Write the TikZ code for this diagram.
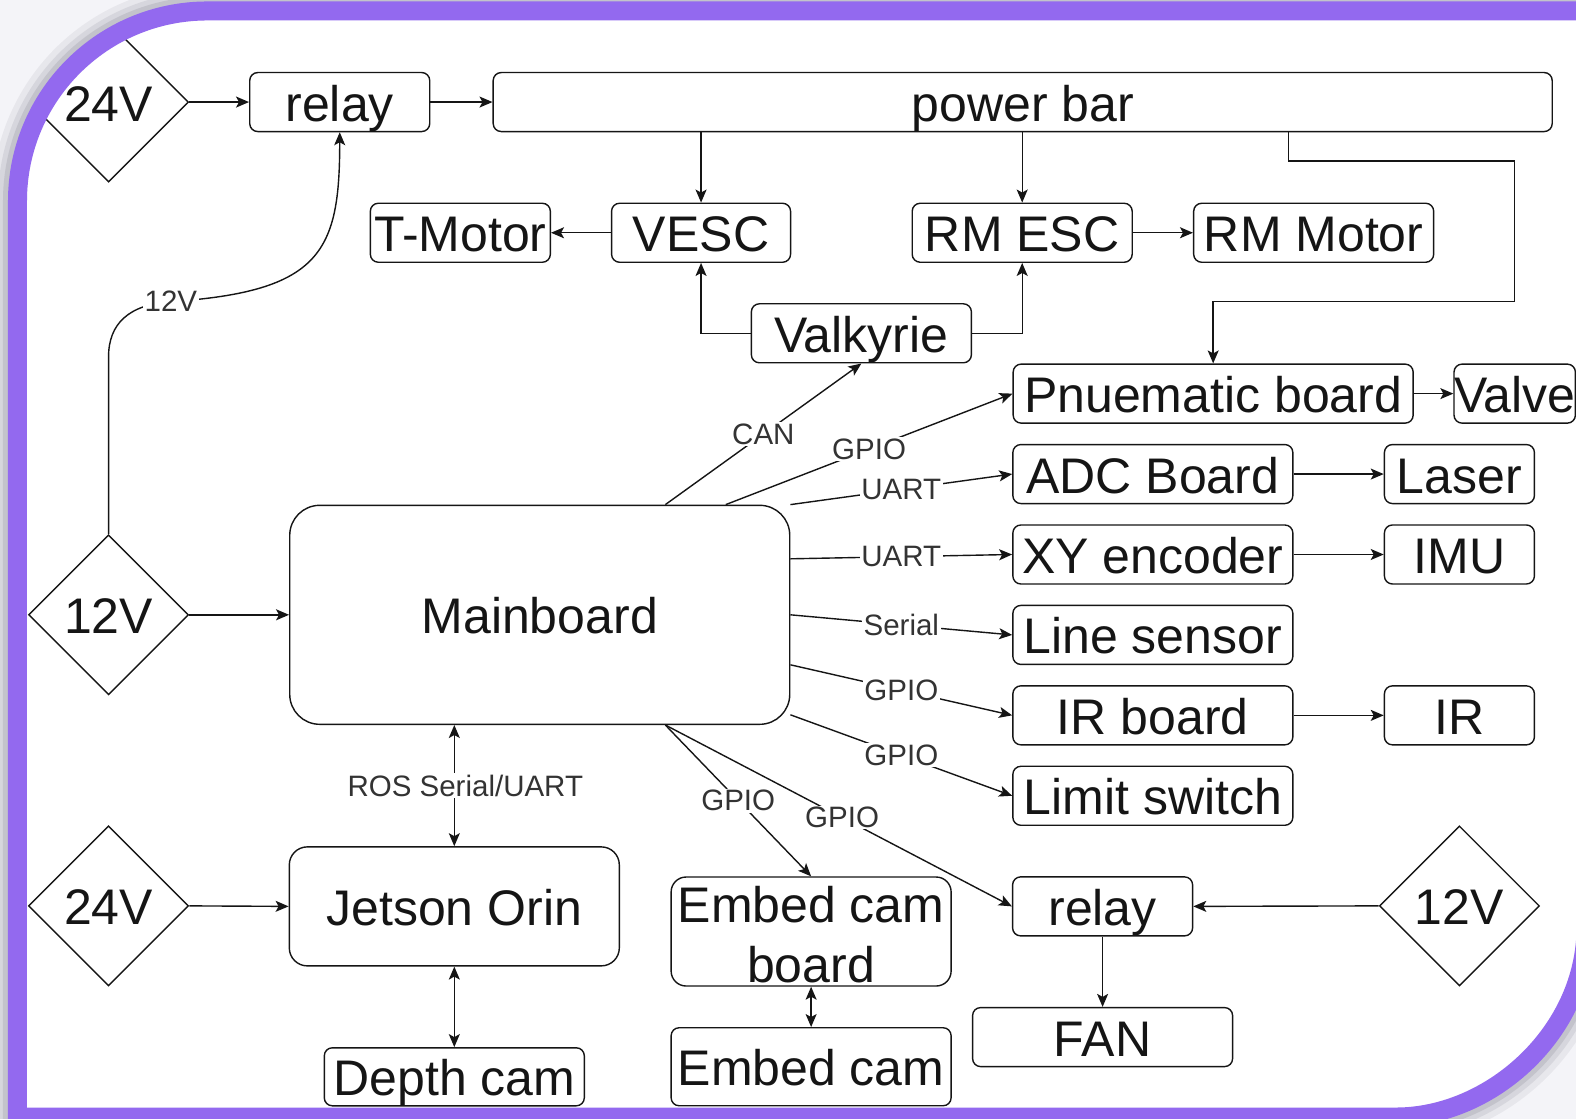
\documentclass[tikz,border=0pt]{standalone}
\usepackage{fontspec}
\setmainfont{Liberation Sans}
\usetikzlibrary{shapes.geometric,arrows.meta,calc}
\definecolor{framecol}{HTML}{9369EF}
\definecolor{outercol}{HTML}{F4F4F8}
\definecolor{shadecol}{HTML}{8E8C99}
\definecolor{lblc}{HTML}{333333}
\definecolor{inkc}{HTML}{151515}
\begin{document}
\begin{tikzpicture}[x=1.0051pt,y=-1.0054pt,
  framepath/.style={insert path={(17.4,1111) -- (17.4,200) .. controls (17.4,95.5) and (102,10.9) .. (206.4,10.9) -- (1578,10.9) -- (1578,922) .. controls (1578,1026.5) and (1483.4,1111) .. (1389,1111) -- cycle}},
  box/.style={draw=inkc, line width=1.4pt, rounded corners=8pt, inner sep=0pt, text=inkc,
    font=\fontsize{50}{60}\selectfont, align=center, text height=40pt, text depth=2pt},
  dia/.style={draw=inkc, diamond, aspect=1, line width=1.4pt, minimum width=160pt, minimum height=160pt,
    inner sep=0pt, text=inkc, font=\fontsize{50}{60}\selectfont, text height=40pt, text depth=2pt},
  conn/.style={draw=inkc, line width=1.4pt, -{Stealth[length=13pt,width=11pt,inset=3pt]}},
  both/.style={draw=inkc, line width=1.4pt, {Stealth[length=13pt,width=11pt,inset=3pt]}-{Stealth[length=13pt,width=11pt,inset=3pt]}},
  lbl/.style={fill=white, inner sep=1.5pt, text=lblc, font=\fontsize{29.5}{32}\selectfont}]

\useasboundingbox (0,0) rectangle (1568,1112);
\fill[outercol] (-20,-20) rectangle (1590,1130);
\draw[shadecol, opacity=.12, line width=51pt, framepath];
\draw[shadecol, opacity=.18, line width=39pt, framepath];
\draw[shadecol, opacity=.25, line width=29pt, framepath];
\fill[white, framepath];

\begin{scope}
\clip[framepath];
% nodes
\node[dia] (d24a) at (108,101.5) {24V};
\node[box, minimum width=180pt, minimum height=59pt] (relayA) at (338,101.5) {relay};
\node[box, minimum width=1059pt, minimum height=59pt] (pbar) at (1017.5,101.5) {power bar};
\node[box, minimum width=180pt, minimum height=59pt] (tmotor) at (458,231.5) {T-Motor};
\node[box, minimum width=179pt, minimum height=59pt] (vesc) at (697.5,231.5) {VESC};
\node[box, minimum width=220pt, minimum height=59pt] (rmesc) at (1017,231.5) {RM ESC};
\node[box, minimum width=240pt, minimum height=59pt] (rmmotor) at (1307,231.5) {RM Motor};
\node[box, minimum width=220pt, minimum height=59pt] (valk) at (857,331.5) {Valkyrie};
\node[box, minimum width=400pt, minimum height=59pt] (pneu) at (1207,391.5) {Pnuematic board};
\node[box, minimum width=120pt, minimum height=59pt] (valve) at (1507,391.5) {Valve};
\node[box, minimum width=280pt, minimum height=59pt] (adc) at (1147,471.5) {ADC Board};
\node[box, minimum width=150pt, minimum height=59pt] (laser) at (1452,471.5) {Laser};
\node[box, minimum width=280pt, minimum height=59pt] (xy) at (1147,551.5) {XY encoder};
\node[box, minimum width=150pt, minimum height=59pt] (imu) at (1452,551.5) {IMU};
\node[box, minimum width=280pt, minimum height=59pt] (lines) at (1147,631.5) {Line sensor};
\node[box, minimum width=280pt, minimum height=59pt] (irb) at (1147,711.5) {IR board};
\node[box, minimum width=150pt, minimum height=59pt] (ir) at (1452,711.5) {IR};
\node[box, minimum width=280pt, minimum height=59pt] (limit) at (1147,791.5) {Limit switch};
\node[box, rounded corners=30pt, minimum width=500pt, minimum height=219pt] (main) at (537,611.5) {Mainboard};
\node[dia] (d12a) at (108,611.5) {12V};
\node[dia] (d24b) at (108,901) {24V};
\node[box, rounded corners=18pt, minimum width=330pt, minimum height=119pt] (jetson) at (452,901.5) {Jetson Orin};
\node[box, minimum width=260pt, minimum height=58pt] (depth) at (452,1071) {Depth cam};
\node[box, rounded corners=15pt, minimum width=280pt, minimum height=109pt, text height=101pt, text depth=0pt] (ecb) at (807,926.5) {Embed cam\\board};
\node[box, minimum width=280pt, minimum height=78pt] (ec) at (807,1061) {Embed cam};
\node[box, minimum width=180pt, minimum height=59pt] (relayB) at (1097,901.5) {relay};
\node[box, minimum width=260pt, minimum height=59pt] (fan) at (1097,1031.5) {FAN};
\node[dia] (d12b) at (1452,901) {12V};

% connectors
\draw[conn] (d24a.east) -- (relayA.west);
\draw[conn] (relayA.east) -- (pbar.west);
\draw[conn] (vesc.north |- pbar.south) -- (vesc.north);
\draw[conn] (rmesc.north |- pbar.south) -- (rmesc.north);
\draw[conn] ([xshift=266pt]pbar.south) |- (1507,160) |- (1207,300) -- (pneu.north);
\draw[conn] (vesc.west) -- (tmotor.east);
\draw[conn] (rmesc.east) -- (rmmotor.west);
\draw[conn] (valk.west) -| (vesc.south);
\draw[conn] (valk.east) -| (rmesc.south);
\draw[conn] (pneu.east) -- (valve.west);
\draw[conn] (adc.east) -- (laser.west);
\draw[conn] (xy.east) -- (imu.west);
\draw[conn] (irb.east) -- (ir.west);
\draw[conn] ([xshift=125.6pt]main.north) -- node[lbl]{CAN} (valk.south);
\draw[conn] ([xshift=186pt]main.north) -- node[lbl]{GPIO} (pneu.west);
\draw[conn] (main.north east) -- node[lbl]{UART} (adc.west);
\draw[conn] ([yshift=56pt]main.east) -- node[lbl]{UART} (xy.west);
\draw[conn] (main.east) -- node[lbl]{Serial} (lines.west);
\draw[conn] ([yshift=-50pt]main.east) -- node[lbl]{GPIO} (irb.west);
\draw[conn] ([yshift=-100pt]main.east) -- node[lbl]{GPIO} (limit.west);
\draw[conn] ([xshift=125.6pt]main.south) -- node[lbl]{GPIO} (ecb.north);
\draw[conn] ([xshift=125.6pt]main.south) -- node[lbl, pos=.51]{GPIO} (relayB.west);
\draw[both] (jetson.north |- main.south) -- node[lbl, xshift=11pt]{ROS Serial/UART} (jetson.north);
\draw[both] (jetson.south) -- (depth.north);
\draw[both] (ecb.south) -- (ec.north);
\draw[conn] (d12b.west) -- (relayB.east);
\draw[conn] (relayB.south) -- (fan.north);
\draw[conn] (d24b.east) -- (jetson.west);
\draw[conn] (d12a.east) -- (main.west);
\draw[conn] (d12a.north) -- (108,355) .. controls (108,322) and (128,303) .. (170,300) node[lbl]{12V}
   .. controls (320,290) and (338,250) .. (relayA.south);
\end{scope}

\draw[framecol, line width=19pt, framepath];
\end{tikzpicture}
\end{document}
